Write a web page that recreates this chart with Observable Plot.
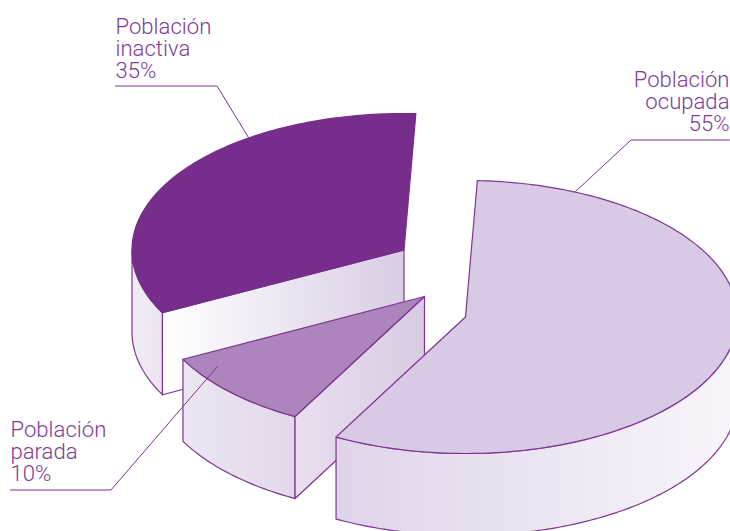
<!DOCTYPE html>
<html><head><meta charset="utf-8">
<style>html,body{margin:0;padding:0;background:#fff}svg{display:block}</style>
<script src="https://cdn.jsdelivr.net/npm/d3@7"></script>
<script src="https://cdn.jsdelivr.net/npm/@observablehq/plot@0.6"></script>
</head><body><div id="chart"></div>
<script>
// Data
const categories = ["Población\nocupada", "Población\nparada", "Población\ninactiva"];
const percentLabels = [55, 10, 35];
// Shares as actually drawn in the picture (the artwork's wedges differ a little from the labels)
const drawnShares = [57.2, 9.5, 33.3];
const topColors = ["#d8cae4", "#ab85bb", "#772d8b"];

// Layout of the exploded, tilted pie
const startAngle = 2.5, rx = 272, ry = 136.5, depth = 82;
const centerX = [465, 424, 403.5], centerY = [316.5, 296, 249.5];
const labelX = [729, 10, 115], labelY = [130, 480, 77], labelAnchor = ["end", "start", "start"];
const leaders = [
  [[729, 139.5], [630.5, 139.5], [575, 191]],
  [[10, 489.5], [110.5, 489.5], [217, 366]],
  [[115, 85.5], [216.5, 85.5], [248, 137]]
];
const ink = "#7d3591", textInk = "#7e3c98";

// Wedge angles derive from the shares
let acc = startAngle;
const wedges = drawnShares.map((s, i) => {
  const a0 = acc, a1 = acc + s * 3.6; acc = a1;
  return {a0, a1, cx: centerX[i], cy: centerY[i], i};
});
const rim = (w, a, dz = 0) => {
  const t = a * Math.PI / 180;
  return [w.cx + rx * Math.sin(t), w.cy - ry * Math.cos(t) + dz];
};
const arc = (w, a0, a1, dz = 0) => {
  const n = Math.max(2, Math.ceil(Math.abs(a1 - a0)));
  return d3.range(n + 1).map(k => rim(w, a0 + (a1 - a0) * k / n, dz));
};
const close = p => [...p, p[0]];
const topFace = w => close([[w.cx, w.cy], ...arc(w, w.a0, w.a1)]);
const outerWall = (w, a0, a1) => close([...arc(w, a0, a1), ...arc(w, a1, a0, depth)]);
const sideWall = (w, a) => {
  const p = rim(w, a);
  return close([p, [w.cx, w.cy], [w.cx, w.cy + depth], [p[0], p[1] + depth]]);
};

const grads = {
  gBig: ["#dfd4e9", "#f8f6fb"],
  gSmallOuter: ["#ece6f2", "#e2d8ea"],
  gSmallSide: ["#e9dfef", "#d8cce3"],
  gDarkOuter: ["#f0ecf6", "#ebe5f1"],
  gDarkFront: ["#ffffff", "#d9cde4"]
};
function defs() {
  const d = d3.create("svg:defs");
  for (const [id, [a, b]] of Object.entries(grads)) {
    const g = d.append("linearGradient").attr("id", id).attr("x1", 0).attr("x2", 1).attr("y1", 0).attr("y2", 0);
    g.append("stop").attr("offset", 0).attr("stop-color", a);
    g.append("stop").attr("offset", 1).attr("stop-color", b);
  }
  return d.node();
}
const face = (pts, fill, stroke = ink) => Plot.line(pts, {fill, stroke, strokeWidth: 1.2, strokeLinejoin: "round"});

const [big, small, dark] = wedges;
const rows = categories.map((c, i) => ({text: `${c}\n${percentLabels[i]}%`, x: labelX[i], y: labelY[i], anchor: labelAnchor[i]}));

const chart = Plot.plot({
  width: 730, height: 531, margin: 0,
  x: {domain: [0, 730], range: [0, 730], axis: null},
  y: {domain: [0, 531], range: [0, 531], axis: null},
  style: {background: "#fff"},
  marks: [
    defs,
    face(outerWall(dark, dark.a0, 270), "url(#gDarkOuter)"),
    face(sideWall(dark, dark.a0), "url(#gDarkFront)"),
    face(topFace(dark), topColors[2], topColors[2]),
    face(outerWall(small, small.a0, small.a1), "url(#gSmallOuter)"),
    face(sideWall(small, small.a0), "url(#gSmallSide)"),
    face(topFace(small), topColors[1]),
    face(outerWall(big, 90, big.a1), "url(#gBig)"),
    face(topFace(big), topColors[0]),
    ...leaders.map(l => Plot.line(l, {stroke: ink, strokeWidth: 1})),
    ...["start", "end"].map(a => Plot.text(rows.filter(r => r.anchor === a), {
      x: "x", y: "y", text: "text", textAnchor: a, lineAnchor: "bottom",
      lineHeight: 0.98, fontSize: 22.1, fontWeight: 300, fontFamily: "Roboto", fill: textInk
    }))
  ]
});
document.getElementById("chart").append(chart);
</script></body></html>
